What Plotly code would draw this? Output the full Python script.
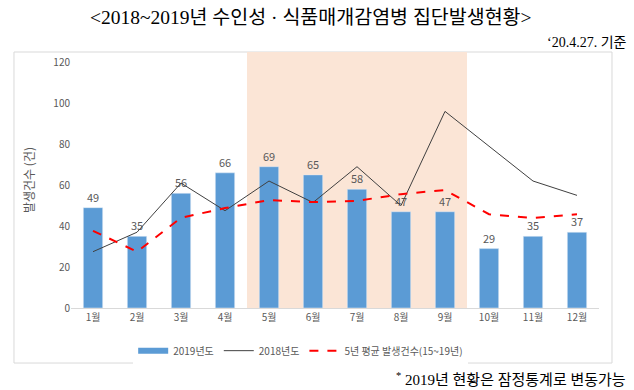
import plotly.graph_objects as go

months = ["1월", "2월", "3월", "4월", "5월", "6월", "7월", "8월", "9월", "10월", "11월", "12월"]
y2019 = [49, 35, 56, 66, 69, 65, 58, 47, 47, 29, 35, 37]
y2018 = [27.5, 37, 61, 47.5, 62, 51.5, 69, 50, 96, 79, 62, 55]
avg5 = [37.7, 27.5, 44, 48.8, 52.7, 51.7, 52.3, 55.6, 57.6, 45.8, 43.9, 45.8]
yticks = [0, 20, 40, 60, 80, 100, 120]

KFONT = "Noto Sans CJK KR"
SFONT = "Liberation Serif, Noto Sans CJK KR"
GRAY = "#595959"
BLUE = "#5b9bd5"

fig = go.Figure()
fig.add_trace(go.Bar(
    x=months, y=y2019, name="2019년도", marker_color=BLUE, showlegend=False,
    text=[str(v) for v in y2019], textposition="outside",
    textfont=dict(color=GRAY, size=11, family=KFONT), cliponaxis=False,
))
# legend entry for bars (wide swatch like the reference)
fig.add_trace(go.Scatter(
    x=[None], y=[None], name="2019년도", mode="lines",
    line=dict(color=BLUE, width=6),
))
fig.add_trace(go.Scatter(
    x=months, y=y2018, name="2018년도", mode="lines",
    line=dict(color="#404040", width=1),
))
fig.add_trace(go.Scatter(
    x=months, y=avg5, name="5년 평균 발생건수(15~19년)", mode="lines",
    line=dict(color="#ff0000", width=2, dash="dash"),
))

# shaded season (5월~9월)
fig.add_shape(type="rect", xref="x", yref="y", x0=3.5, x1=8.5, y0=0, y1=125,
              fillcolor="#fbe5d6", line=dict(width=0), layer="below")
# chart border box
fig.add_shape(type="rect", xref="paper", yref="paper", x0=-0.108, x1=1.0246,
              y0=-0.215, y1=1.0, line=dict(color="#d9d9d9", width=1), layer="below")

fig.update_layout(
    width=634, height=390,
    margin=dict(l=71, r=35, t=52, b=82, autoexpand=False),
    paper_bgcolor="white", plot_bgcolor="white",
    bargap=0.56,
    showlegend=True,
    legend=dict(orientation="h", x=0.435, xanchor="center", y=-0.11, yanchor="top",
                font=dict(size=10, color=GRAY, family=KFONT), traceorder="normal"),
    font=dict(family=KFONT, color=GRAY),
)
fig.update_xaxes(showline=True, linecolor="#d9d9d9", linewidth=1, ticks="",
                 tickfont=dict(size=10, color=GRAY, family=KFONT), showgrid=False,
                 range=[-0.5, 11.5], automargin=False)
fig.update_yaxes(range=[0, 125], tickvals=yticks, showgrid=False, zeroline=False,
                 tickfont=dict(size=10, color=GRAY, family=KFONT), automargin=False,
                 title=dict(text="발생건수 (건)", font=dict(size=12, color=GRAY, family=KFONT),
                            standoff=16))

fig.add_annotation(text="<2018~2019년 수인성 · 식품매개감염병 집단발생현황>",
                   xref="paper", yref="paper", x=(311 - 71) / 528, y=(308 - 17) / 256,
                   xanchor="center", yanchor="middle", showarrow=False,
                   font=dict(size=19.5, color="#000000", family=SFONT))
fig.add_annotation(text="‘20.4.27. 기준",
                   xref="paper", yref="paper", x=(629 - 71) / 528, y=(308 - 42) / 256,
                   xanchor="right", yanchor="middle", showarrow=False,
                   font=dict(size=14, color="#000000", family=SFONT))
fig.add_annotation(text="<sup>*</sup> 2019년 현황은 잠정통계로 변동가능",
                   xref="paper", yref="paper", x=(628 - 71) / 528, y=(308 - 379) / 256,
                   xanchor="right", yanchor="middle", showarrow=False,
                   font=dict(size=15, color="#000000", family=SFONT))

fig.write_html("out.html", config={"displayModeBar": False},
               post_script="document.body.style.margin='0';")
